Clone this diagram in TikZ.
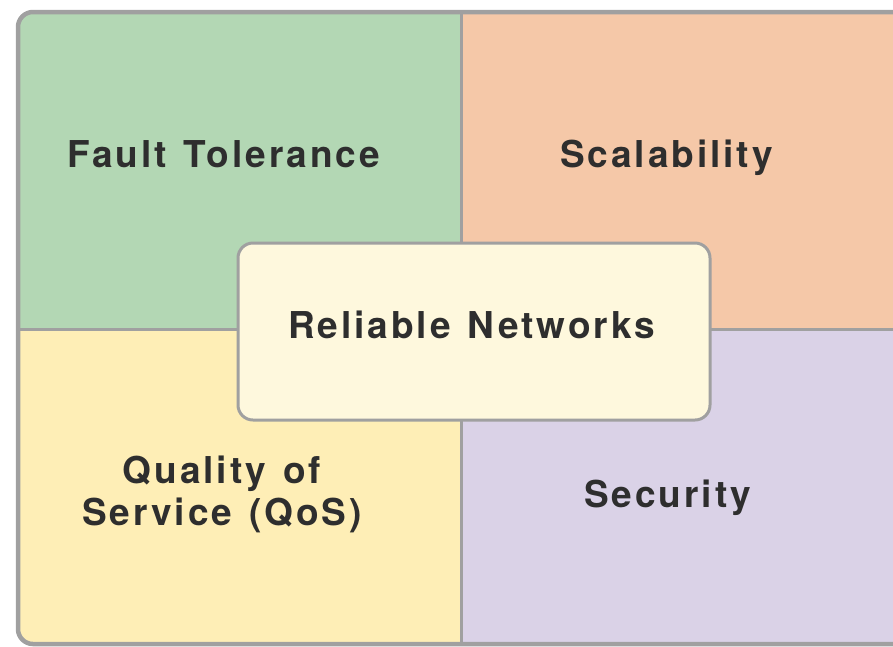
\documentclass[tikz,border=0pt]{standalone}
\usepackage{fontspec}
\setmainfont{TeX Gyre Heros}[LetterSpace=8,WordSpace=1.3]
\definecolor{qgreen}{HTML}{B3D7B4}
\definecolor{qorange}{HTML}{F5C8A8}
\definecolor{qyellow}{HTML}{FEEEB6}
\definecolor{qpurple}{HTML}{DAD2E7}
\definecolor{qcenter}{HTML}{FEF8DD}
\definecolor{qborder}{HTML}{A0A0A0}
\definecolor{qtext}{HTML}{2E2E2E}
\begin{document}
\begin{tikzpicture}[x=1pt,y=-1pt,
  label/.style={text=qtext,font=\fontsize{37}{42}\selectfont\bfseries,inner sep=0pt,align=center},
  divider/.style={draw=qborder,line width=3pt}]
\useasboundingbox (0,0) rectangle (893,646);
\clip (0,0) rectangle (893,646);
% outer panel
\begin{scope}
  \clip[rounded corners=15pt] (18,12) rectangle (940,644);
  \fill[qgreen] (18,12) rectangle (461.5,329);
  \fill[qorange] (461.5,12) rectangle (940,329);
  \fill[qyellow] (18,329) rectangle (461.5,644);
  \fill[qpurple] (461.5,329) rectangle (940,644);
  \coordinate (vt) at (461.5,12);
  \coordinate (vb) at (461.5,644);
  \coordinate (hl) at (18,329);
  \coordinate (hr) at (940,329);
  \draw[divider] (vt) -- (vb);
  \draw[divider] (hl) -- (hr);
\end{scope}
\draw[qborder,line width=4.5pt,rounded corners=15pt] (18,12) rectangle (940,644);
% center box
\node[draw=qborder,line width=3pt,fill=qcenter,rounded corners=15pt,
  minimum width=472pt,minimum height=177pt,inner sep=0pt] (center) at (474,331.5) {};
\node[label,anchor=base] (rel) at (471.5,338) {Reliable Networks};
\node[label,anchor=base] (ft) at (223.5,167) {Fault Tolerance};
\node[label,anchor=base] (sc) at (666.5,167) {Scalability};
\node[label,anchor=base] (sec) at (667.5,507) {Security};
\node[label,anchor=north] (qos) at (222,456) {Quality of\\Service (QoS)};
\end{tikzpicture}
\end{document}
